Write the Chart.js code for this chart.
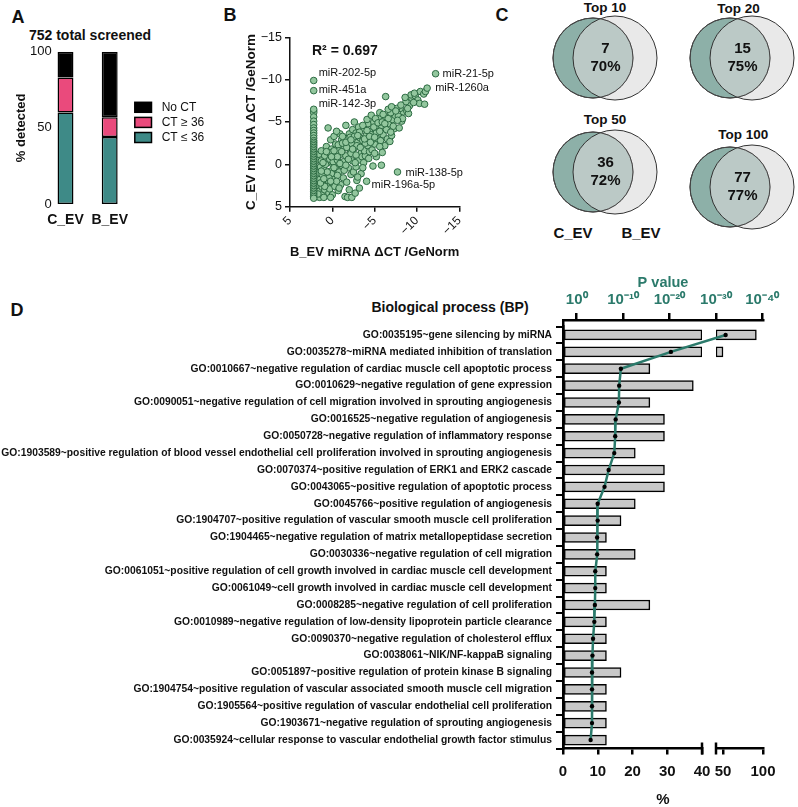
<!DOCTYPE html>
<html><head><meta charset="utf-8">
<script src="https://cdn.jsdelivr.net/npm/chart.js@4.4.0/dist/chart.umd.min.js"></script>
<style>
html,body{margin:0;padding:0;width:798px;height:807px;overflow:hidden;background:#fff;font-family:"Liberation Sans",Arial,sans-serif;}
canvas{position:absolute;}
.t{position:absolute;font-weight:bold;color:#111;white-space:nowrap;transform:translate(-50%,-50%);line-height:1;}
</style></head><body>
<script>
// ---------------- Panel A data ----------------
const detCategories = ['C_EV', 'B_EV'];
const pctCtLow  = [60, 44];   // CT ≤ 36
const pctCtHigh = [23, 13];   // CT ≥ 36
const pctNoCt   = [17, 43];   // No CT
const detTicks  = [0, 50, 100];

// ---------------- Panel B data ----------------
const bevCloud = [
 1.8,1.6,1.9,1.5,1.7,1.4,1.8,1.6,1.5,1.2,
 1.2,0.9,1.1,0.8,1.0,0.6,0.9,1.3,0.7,0.5,
 1.0,0.6,1.2,0.8,1.3,0.4,0.5,0.3,0.0,-0.2,
 0.2,-0.1,0.3,-0.3,0.1,-0.4,0.2,-0.2,0.0,-0.4,
 0.4,-0.1,0.1,-0.3,0.2,-0.7,-1.0,-1.3,-0.8,-1.2,
 -0.6,-1.0,-1.4,-0.7,-1.1,-0.9,-1.3,-0.6,-1.5,-1.2,
 -0.8,-1.8,-2.3,-2.0,-1.7,-2.2,-1.9,-2.4,-1.6,-2.1,
 -2.3,-1.8,-2.0,-2.4,-1.7,-2.2,-2.5,-2.7,-3.2,-2.9,
 -3.4,-2.8,-3.1,-3.4,-2.6,-3.0,-3.3,-2.8,-3.1,-2.9,
 -3.5,-3.9,-3.7,-4.3,-3.8,-4.2,-3.6,-4.0,-4.4,-3.7,
 -4.2,-3.9,-4.4,-4.8,-5.2,-4.7,-5.0,-5.4,-4.6,-5.1,
 -5.3,-4.9,-5.5,-4.7,-5.2,-5.0,-5.8,-5.9,-6.2,-5.7,
 -6.0,-6.4,-5.8,-6.1,-6.3,-6.3,-5.6,-6.5,-6.8,-7.0,
 -7.3,-6.7,-7.1,-7.4,-6.9,-7.2,-7.9,-8.2,-7.8,-8.4,
 -8.0,-8.3,-8.8,-9.1,-8.7,-9.4,-9.0,-9.3,-9.8,-10.1,
 -10.3,-9.7,-10.4,-10.8,-11.0,-10.9,-3.0,-1.6,-0.5,-2.6,
 0.9,0.4,-0.2,-0.6,-1.1,-1.6,-2.1,-2.6,-3.2,-3.6,
 -4.1,-4.6,-5.1,-5.6,-6.0,-6.6,-7.6,-8.1,-8.6,-9.6,
 1.4,1.1,0.6,0.1,-0.5,-0.9,-1.4,-1.9,-2.4,-2.8,
 -3.3,-3.8,-4.4,-4.9,-5.4,-5.9,-6.6,-7.0,-7.5,-8.9,
 1.7,1.0,0.2,-0.8,-1.6,-2.7,-3.6,-4.5,-5.6,-6.9,
 1.3,0.7,-0.2,-1.2,-2.2,-3.0,-4.1,-5.0,-6.2,-7.7,
 2.2,2.2,2.2,2.2,2.2,2.2,2.2,2.2,2.2,2.2,
 2.2,2.2,2.2,2.2,2.2,2.2,2.2,2.2,2.2,2.2,
 2.2,2.2,2.2,2.2,2.2,2.2,2.2,2.2,2.2,2.2,
 2.2,2.2,2.2,2.2,2.2,2.2,2.2,2.2,2.2,2.2,
 2.2,2.2,2.2,2.2,2.2
];
const cevCloud = [
 3.8,3.2,2.5,1.8,1.0,0.3,-0.5,-1.2,3.9,2.7,
 3.6,3.0,2.0,1.4,0.6,-0.2,-1.0,-1.6,-2.1,-4.3,
 3.9,2.4,1.2,0.0,-0.4,3.4,1.9,2.9,2.2,1.5,
 0.8,0.1,-0.6,-1.1,-1.8,-2.4,-2.9,-3.3,3.6,0.5,
 -1.4,-0.3,1.1,2.6,3.9,3.1,2.4,1.6,0.9,0.2,
 -0.5,-1.2,-1.9,-2.3,-2.9,-3.6,-0.3,1.3,3.8,-2.5,
 -1.6,3.9,3.9,3.0,2.1,1.2,0.4,-0.4,-1.0,-1.7,
 -2.4,-3.0,-3.6,-4.1,-2.0,-1.3,0.9,3.4,2.8,1.9,
 1.1,0.3,-0.5,-1.3,-1.9,-2.6,-3.1,-3.7,-4.4,-2.2,
 -0.9,-1.0,-0.2,-0.7,-1.6,-2.2,-2.8,-3.4,-3.9,-4.2,
 -4.8,-2.5,-1.5,0.2,-0.9,-1.7,-2.4,-3.0,-3.5,-4.1,
 -4.6,-5.0,-5.5,-2.9,-3.7,-1.3,0.1,-1.4,-2.2,-2.8,
 -3.5,-4.1,-4.6,-5.2,-5.6,-8.0,-3.9,-3.0,-2.7,-3.4,
 -4.2,-4.8,-5.3,-5.8,-6.1,-4.5,-4.3,-5.1,-5.7,-6.2,
 -6.6,-5.4,-6.3,-6.9,-7.4,-7.8,-6.0,-8.2,-8.1,-7.6,
 -7.2,-8.4,-8.6,-8.3,-8.6,-7.1,1.5,-4.6,-3.9,-5.0,
 2.6,1.6,0.4,-0.9,-1.5,-2.6,-3.2,-3.3,-3.8,-4.6,
 -5.3,-5.8,-5.4,-6.1,-5.9,-6.5,-6.6,-7.0,-7.9,-7.3,
 2.2,-0.2,0.9,-0.9,2.0,-0.1,0.7,-0.6,-1.8,-1.1,
 -2.0,-3.0,-3.3,-4.4,-4.9,-5.0,-5.4,-6.8,-6.3,-6.6,
 3.5,1.7,2.0,2.8,0.1,-0.2,0.4,-2.6,-2.1,-3.8,
 0.8,-1.5,-1.6,-3.3,-2.9,-3.4,-4.0,-3.2,-4.8,-5.2,
 -6.3,-6.1,-5.6,-5.1,-4.7,-4.3,-4.0,-3.7,-3.4,-3.1,
 -2.8,-2.6,-2.4,-2.2,-2.0,-1.8,-1.6,-1.4,-1.2,-1.0,
 -0.8,-0.6,-0.4,-0.2,0.0,0.2,0.4,0.6,0.8,1.0,
 1.2,1.4,1.6,1.8,2.0,2.2,2.4,2.6,2.8,3.0,
 3.2,3.4,3.6,3.8,4.0
];
const namedMiR = ['miR-202-5p','miR-451a','miR-142-3p','miR-21-5p','miR-1260a','miR-138-5p','miR-196a-5p'];
const namedBev = [2.2, 2.2, 2.2, -12.2, -11.2, -7.7, -4.05];
const namedCev = [-9.9, -8.7, -6.5, -10.7, -9.0, 0.9, 2.0];
const rSquared = '0.697';
const scatterTicks = [5, 0, -5, -10, -15];

// ---------------- Panel C data ----------------
const vennTop = [10, 20, 50, 100];
const vennShared = [7, 15, 36, 77];
const vennGroups = ['C_EV', 'B_EV'];

// ---------------- Panel D data ----------------
const goTerms = [
 'GO:0035195~gene silencing by miRNA',
 'GO:0035278~miRNA mediated inhibition of translation',
 'GO:0010667~negative regulation of cardiac muscle cell apoptotic process',
 'GO:0010629~negative regulation of gene expression',
 'GO:0090051~negative regulation of cell migration involved in sprouting angiogenesis',
 'GO:0016525~negative regulation of angiogenesis',
 'GO:0050728~negative regulation of inflammatory response',
 'GO:1903589~positive regulation of blood vessel endothelial cell proliferation involved in sprouting angiogenesis',
 'GO:0070374~positive regulation of ERK1 and ERK2 cascade',
 'GO:0043065~positive regulation of apoptotic process',
 'GO:0045766~positive regulation of angiogenesis',
 'GO:1904707~positive regulation of vascular smooth muscle cell proliferation',
 'GO:1904465~negative regulation of matrix metallopeptidase secretion',
 'GO:0030336~negative regulation of cell migration',
 'GO:0061051~positive regulation of cell growth involved in cardiac muscle cell development',
 'GO:0061049~cell growth involved in cardiac muscle cell development',
 'GO:0008285~negative regulation of cell proliferation',
 'GO:0010989~negative regulation of low-density lipoprotein particle clearance',
 'GO:0090370~negative regulation of cholesterol efflux',
 'GO:0038061~NIK/NF-kappaB signaling',
 'GO:0051897~positive regulation of protein kinase B signaling',
 'GO:1904754~positive regulation of vascular associated smooth muscle cell migration',
 'GO:1905564~positive regulation of vascular endothelial cell proliferation',
 'GO:1903671~negative regulation of sprouting angiogenesis',
 'GO:0035924~cellular response to vascular endothelial growth factor stimulus'
];
const goPercent = [91.7, 50, 25, 37.5, 25, 29.2, 29.2, 20.8, 29.2, 29.2, 20.8, 16.7, 12.5, 20.8, 12.5, 12.5, 25, 12.5, 12.5, 12.5, 16.7, 12.5, 12.5, 12.5, 12.5];
const goPValue = [8e-33, 5e-21, 3e-10, 7e-10, 8e-10, 4e-9, 5e-9, 8e-9, 1.3e-7, 1e-6, 3e-5, 3e-5, 4e-5, 4e-5, 1e-4, 1e-4, 1.2e-4, 1.6e-4, 3e-4, 4e-4, 5e-4, 5e-4, 5e-4, 5e-4, 1e-3];
const pTicks = [1, 1e-10, 1e-20, 1e-30, 1e-40];
const pctTicksLow = [0, 10, 20, 30, 40];
const pctTicksHigh = [50, 100];

// ---------------- helpers / layout ----------------
const FONT = '"Liberation Sans", Arial, sans-serif';
Chart.defaults.font.family = FONT;
Chart.defaults.color = '#111';
Chart.defaults.animation = false;
const TEAL = '#2b7a6b';

function mk(left, top, w, h){
  const c = document.createElement('canvas');
  c.width = w; c.height = h;
  c.style.left = left + 'px'; c.style.top = top + 'px';
  c.style.width = w + 'px'; c.style.height = h + 'px';
  document.body.appendChild(c);
  return c;
}
function txt(s, x, y, size){
  const d = document.createElement('div');
  d.className = 't'; d.textContent = s;
  d.style.left = x + 'px'; d.style.top = y + 'px';
  d.style.fontSize = size + 'px';
  document.body.appendChild(d);
}
const fmtMinus = v => v < 0 ? '\u2212' + Math.abs(v) : String(v);
const SUP = {'0':'⁰','1':'¹','2':'²','3':'³','4':'⁴','5':'⁵','6':'⁶','7':'⁷','8':'⁸','9':'⁹','-':'⁻'};
const supExp = v => '10' + String(Math.round(Math.log10(v))).split('').map(c => SUP[c]).join('');
const noTip = {legend:{display:false}, tooltip:{enabled:false}};

// panel letters & titles
txt('A', 18, 17, 18);
txt('B', 230, 15, 18);
txt('C', 502, 15, 18);
txt('D', 17, 310, 18);
txt('752 total screened', 90, 35, 14);

// ---------------- Panel A ----------------
const detLegend = {id: 'detLegend', afterDraw(ch){
  const ctx = ch.ctx, a = ch.chartArea;
  const items = ch.data.datasets.slice().reverse();
  const x0 = a.right + 3, y0 = a.top + 55.6, dy = 15.1;
  ctx.save();
  ctx.font = '12px ' + FONT; ctx.textBaseline = 'middle'; ctx.textAlign = 'left';
  items.forEach((d, i) => {
    const y = y0 + i * dy;
    ctx.fillStyle = d.backgroundColor; ctx.fillRect(x0, y - 5, 16.7, 10);
    ctx.strokeStyle = '#000'; ctx.lineWidth = 1.5; ctx.strokeRect(x0, y - 5, 16.7, 10);
    ctx.fillStyle = '#111'; ctx.fillText(d.label, x0 + 26.9, y);
  });
  ctx.restore();
}};
new Chart(mk(0, 0, 232, 232), {
  type: 'bar',
  data: {datasets: [
    {label: 'CT \u2264 36', data: pctCtLow,  backgroundColor: '#3e8a87'},
    {label: 'CT \u2265 36', data: pctCtHigh, backgroundColor: '#ea4a7c'},
    {label: 'No CT',        data: pctNoCt,   backgroundColor: '#000'}
  ].map(d => Object.assign(d, {data: d.data.map((v, i) => ({x: i, y: v})),
      borderColor: '#000', borderWidth: 1.5, borderSkipped: false, barPercentage: 0.36, categoryPercentage: 1}))},
  options: {
    responsive: false,
    layout: {autoPadding: false, padding: {top: 51.7, left: 0, right: 100.2, bottom: 0}},
    plugins: noTip,
    scales: {
      x: {type: 'linear', stacked: true, offset: false, min: -0.215, max: 1.5, grace: 0,
          afterBuildTicks(s){ s.ticks = detCategories.map((c, i) => ({value: i})); },
          grid: {display: false, drawTicks: false}, border: {display: false},
          ticks: {font: {size: 14, weight: 'bold'}, padding: 7.6, color: '#111', callback: v => detCategories[v]},
          afterFit(s){ s.height = 28; }},
      y: {stacked: true, min: 0, max: 100, grid: {display: false, drawTicks: false}, border: {display: false},
          afterBuildTicks(s){ s.ticks = detTicks.map(v => ({value: v})); },
          ticks: {font: {size: 13}, padding: 4.3, color: '#111'},
          title: {display: true, text: '% detected', font: {size: 13, weight: 'bold', lineHeight: 1}, padding: {top: 15.2, bottom: 0}, color: '#111'},
          afterFit(s){ s.width = 56; }}
    }
  },
  plugins: [detLegend]
});

// ---------------- Panel B ----------------
const namedOffset = [[5,-8],[5,-1],[5,-5],[7,0],[8,0],[8,1],[5,4]];
const scatterPts = bevCloud.map((x, i) => ({x, y: cevCloud[i]}))
  .concat(namedBev.map((x, i) => ({x, y: namedCev[i]})));
new Chart(mk(190, 0, 320, 270), {
  type: 'scatter',
  data: {datasets: [{data: scatterPts, backgroundColor: '#93c79e', borderColor: '#2c6a42', borderWidth: 1, pointRadius: 3.3}]},
  options: {
    responsive: false,
    layout: {autoPadding: false, padding: {left: 0, top: 37.3, right: 50.7, bottom: 0}},
    plugins: noTip,
    scales: {
      x: {type: 'linear', min: -15, max: 5, reverse: true,
          afterBuildTicks(s){ s.ticks = scatterTicks.map(v => ({value: v})); },
          grid: {drawOnChartArea: false, tickLength: 5, color: '#111', lineWidth: 1.5},
          border: {color: '#111', width: 1.5},
          ticks: {minRotation: 45, maxRotation: 45, font: {size: 12}, color: '#111', padding: 2, callback: v => fmtMinus(v)},
          title: {display: true, text: 'B_EV miRNA \u0394CT /GeNorm', font: {size: 13.5, weight: 'bold', lineHeight: 1}, padding: {top: 0, bottom: 11.25}, color: '#111'},
          afterFit(s){ s.height = 63.3; }},
      y: {type: 'linear', min: -15, max: 5, reverse: true,
          afterBuildTicks(s){ s.ticks = scatterTicks.map(v => ({value: v})); },
          grid: {drawOnChartArea: false, tickLength: 5, color: '#111', lineWidth: 1.5},
          border: {color: '#111', width: 1.5},
          ticks: {font: {size: 12.5}, color: '#111', padding: 3, callback: v => fmtMinus(v)},
          title: {display: true, text: 'C_EV miRNA \u0394CT /GeNorm', font: {size: 13.5, weight: 'bold', lineHeight: 1}, padding: {top: 54.9, bottom: 0}, color: '#111'},
          afterFit(s){ s.width = 100; }}
    }
  },
  plugins: [{id: 'miRLabels', afterDatasetsDraw(ch){
    const ctx = ch.ctx, xs = ch.scales.x, ys = ch.scales.y, a = ch.chartArea;
    ctx.save();
    ctx.fillStyle = '#111'; ctx.textBaseline = 'middle'; ctx.textAlign = 'left';
    ctx.font = 'bold 14px ' + FONT;
    ctx.fillText('R\u00b2 = ' + rSquared, a.left + 22, a.top + 13.4);
    ctx.font = '11px ' + FONT;
    namedMiR.forEach((n, i) => {
      ctx.fillText(n, xs.getPixelForValue(namedBev[i]) + namedOffset[i][0], ys.getPixelForValue(namedCev[i]) + namedOffset[i][1]);
    });
    ctx.restore();
  }}]
});

// ---------------- Panel C ----------------
const vennPlace = [
  {cx: 603.5, cy: 58.3,  tx: 605,   ty: 7.5},
  {cx: 741,   cy: 58.3,  tx: 738.5, ty: 8.5},
  {cx: 603.5, cy: 171.7, tx: 605,   ty: 119.5},
  {cx: 741,   cy: 187,   tx: 743.3, ty: 134.5}
];
const PXU = 22;
vennTop.forEach((top, i) => {
  const pl = vennPlace[i];
  txt('Top ' + top, pl.tx, pl.ty, 13.5);
  new Chart(mk(pl.cx - 62, pl.cy - 50, 124, 100), {
    type: 'bubble',
    data: {datasets: [
      {data: [{x: -0.5, y: 0, r: 40}], backgroundColor: '#8db0a8', borderColor: '#333', borderWidth: 1, clip: false, order: 3},
      {data: [{x: 0.5, y: 0, r: 42}], backgroundColor: 'rgba(219,219,219,0.6)', borderColor: '#333', borderWidth: 1, clip: false, order: 2},
      {data: [{x: -0.5, y: 0, r: 40}], backgroundColor: 'rgba(0,0,0,0)', borderColor: '#444', borderWidth: 1, clip: false, order: 1}
    ]},
    options: {
      responsive: false, layout: {autoPadding: false, padding: 0}, plugins: noTip,
      scales: {x: {display: false, min: -62 / PXU, max: 62 / PXU}, y: {display: false, min: -50 / PXU, max: 50 / PXU}}
    },
    plugins: [{id: 'vennText', afterDatasetsDraw(ch){
      const ctx = ch.ctx, cx = ch.scales.x.getPixelForValue(0), cy = ch.scales.y.getPixelForValue(0);
      ctx.save();
      ctx.font = 'bold 15px ' + FONT; ctx.fillStyle = '#111';
      ctx.textAlign = 'center'; ctx.textBaseline = 'middle';
      ctx.fillText(String(vennShared[i]), cx + 1.5, cy - 9);
      ctx.fillText(Math.round(vennShared[i] / top * 100) + '%', cx + 1.5, cy + 9);
      ctx.restore();
    }}]
  });
});
txt(vennGroups[0], 573, 232, 15);
txt(vennGroups[1], 641, 232, 15);

// ---------------- Panel D ----------------
txt('Biological process (BP)', 450, 307, 14);
const D_TOP = 270, D_W = 798, D_H = 540;
const BRK_MIN = 41.25;

function breakCaps(valueFn){
  return {id: 'breakCap', afterDraw(ch){
    const s = ch.scales.x, y = ch.chartArea.bottom, x = s.getPixelForValue(valueFn(s));
    const ctx = ch.ctx; ctx.save();
    ctx.strokeStyle = '#000'; ctx.lineWidth = 2.5;
    ctx.beginPath(); ctx.moveTo(x, y - 6); ctx.lineTo(x, y + 6); ctx.stroke();
    ctx.restore();
  }};
}
const axisGrid = {drawOnChartArea: false, tickLength: 6, color: '#000', lineWidth: 2.5};
const axisBorder = {color: '#000', width: 2.5};
const pctTickFont = {size: 15, weight: 'bold'};

// D1: labels + bars 0..40
new Chart(mk(0, D_TOP, D_W, D_H), {
  type: 'bar',
  data: {labels: goTerms, datasets: [{data: goPercent.map(v => Math.min(v, 40)),
    backgroundColor: '#c8c8c8', borderColor: '#000', borderWidth: 1.5, borderSkipped: false, barThickness: 10}]},
  options: {
    indexAxis: 'y', responsive: false,
    layout: {autoPadding: false, padding: {left: 0, top: 56.5, right: 96, bottom: 1}},
    plugins: noTip,
    scales: {
      y: {grid: {drawOnChartArea: false, tickLength: 7, color: '#000', lineWidth: 2}, border: axisBorder,
          ticks: {font: {size: 10.3, weight: 'bold'}, color: '#111', padding: 4, autoSkip: false},
          afterFit(s){ s.width = 563; }},
      x: {min: 0, max: 40, afterBuildTicks(s){ s.ticks = pctTicksLow.map(v => ({value: v})); },
          grid: axisGrid, border: axisBorder, ticks: {font: pctTickFont, color: '#111', padding: 8.2},
          afterFit(s){ s.height = 60.5; }}
    }
  },
  plugins: [breakCaps(s => 40)]
});

// D2: broken upper part
new Chart(mk(0, D_TOP, D_W, D_H), {
  type: 'bar',
  data: {labels: goTerms, datasets: [{data: goPercent.map(v => v > 40 ? [BRK_MIN, v] : null),
    backgroundColor: '#c8c8c8', borderColor: '#000', borderWidth: 1.5, borderSkipped: false, barThickness: 10}]},
  options: {
    indexAxis: 'y', responsive: false,
    layout: {autoPadding: false, padding: {left: 716, top: 56.5, right: 35, bottom: 1}},
    plugins: noTip,
    scales: {
      y: {display: false},
      x: {min: BRK_MIN, max: 100, afterBuildTicks(s){ s.ticks = pctTicksHigh.map(v => ({value: v})); },
          grid: axisGrid, border: axisBorder, ticks: {font: pctTickFont, color: '#111', padding: 8.2},
          afterFit(s){ s.height = 60.5; }}
    }
  },
  plugins: [breakCaps(s => s.min)]
});

// D3: P value line on the top axis
new Chart(mk(0, D_TOP, D_W, D_H), {
  type: 'line',
  data: {datasets: [{data: goPValue.map((p, i) => ({x: p, y: i})), xAxisID: 'x', yAxisID: 'y',
    borderColor: TEAL, borderWidth: 2.5, tension: 0, pointRadius: 2.2, pointBackgroundColor: '#000', pointBorderWidth: 0}]},
  options: {
    responsive: false,
    layout: {autoPadding: false, padding: {left: 563, top: 0, right: 35, bottom: 1}},
    plugins: noTip,
    scales: {
      x: {type: 'logarithmic', position: 'top', reverse: true, min: Math.pow(10, -40.15), max: Math.pow(10, 2.95),
          afterBuildTicks(s){ s.ticks = pTicks.map(v => ({value: v})); },
          grid: {drawOnChartArea: false, tickLength: 7, color: '#000', lineWidth: 2.5}, border: axisBorder,
          ticks: {font: {size: 15, weight: 'bold'}, color: TEAL, padding: 4.3, callback: v => supExp(v)},
          title: {display: true, text: 'P value', font: {size: 14.5, weight: 'bold', lineHeight: 1}, color: TEAL, padding: {top: 5.5, bottom: 0}},
          afterFit(s){ s.height = 50; }},
      xb: {type: 'linear', position: 'bottom', min: 0, max: 1, grid: {display: false, drawTicks: false}, border: {display: false},
          ticks: {display: false},
          title: {display: true, text: '%', font: {size: 15, weight: 'bold', lineHeight: 1}, color: '#111', padding: {top: 0, bottom: 1.5}},
          afterFit(s){ s.height = 60.5; }},
      y: {type: 'linear', reverse: true, min: -0.889, max: 24.504,
          grid: {display: false, drawTicks: false}, ticks: {display: false}, border: axisBorder,
          afterFit(s){ s.width = 0; }}
    }
  }
});
</script>
</body></html>
